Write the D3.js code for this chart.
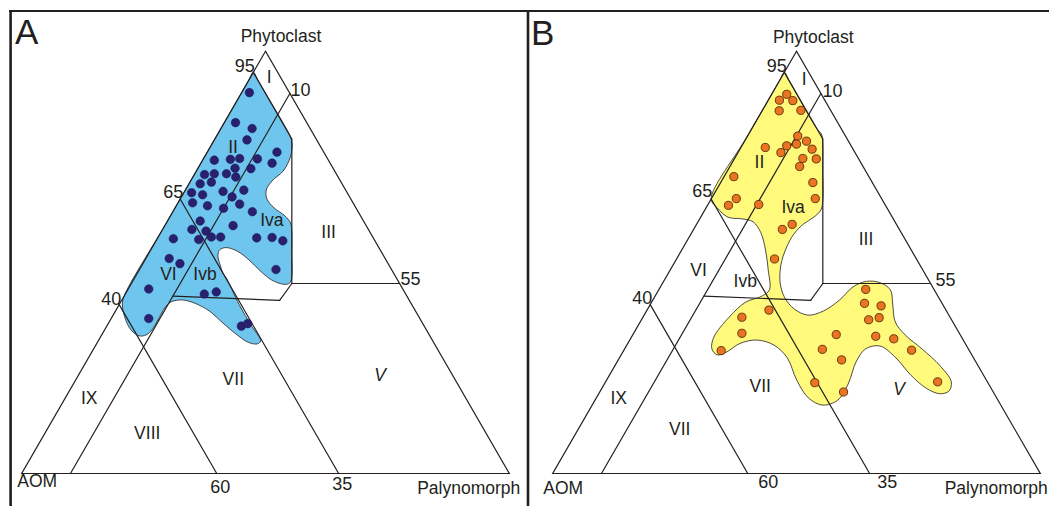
<!DOCTYPE html>
<html>
<head>
<meta charset="utf-8">
<script src="https://cdn.jsdelivr.net/npm/d3@7"></script>
<style>
  body { margin: 0; background: #fff; }
  svg { display: block; }
  text { font-family: "Liberation Sans", Arial, Helvetica, sans-serif; fill: #231f20; }
</style>
</head>
<body>
<svg id="chart" width="1049" height="506"></svg>
<script>
// ---------------- DATA (ternary compositions, %) ----------------
// Samples: [AOM, Phytoclast, Palynomorph]
const samplesA = [
  [8.2,90.2,1.6],[14.6,83.1,2.3],[11.9,81.7,6.4],[14.3,79.0,6.7],[9.6,76.1,14.3],
  [11.9,73.5,14.6],[23.4,74.2,2.4],[20.0,74.4,5.6],[18.0,74.6,7.4],[14.4,74.5,11.1],
  [20.1,72.3,7.6],[16.9,72.2,10.9],[27.1,70.8,2.1],[25.0,71.0,4.0],[22.5,71.0,6.5],
  [21.0,70.2,8.8],[29.1,68.6,2.3],[26.6,69.0,4.4],[20.9,67.1,12.0],[31.9,66.5,1.6],
  [29.9,66.0,4.1],[25.3,66.8,7.9],[24.1,65.5,10.4],[32.9,64.1,3.0],[30.2,63.4,6.4],
  [27.2,62.8,10.0],[23.4,63.8,12.8],[21.7,62.0,16.3],[33.5,59.8,6.7],[27.3,58.7,14.0],
  [36.2,57.8,6.0],[33.5,57.4,9.1],[41.1,55.6,3.3],[36.0,55.4,8.6],[33.1,56.0,10.9],
  [31.2,56.0,12.8],[23.9,55.8,20.3],[20.7,55.9,23.4],[18.9,55.1,26.0],[44.3,50.9,4.8],
  [42.7,49.7,7.6],[23.7,48.3,28.0],[52.1,43.7,4.2],[41.3,42.5,16.2],[38.6,43.0,18.4],
  [55.6,36.7,7.7],[37.5,34.9,27.6],[35.9,35.5,28.6]
];
const samplesB = [
  [7.1,89.8,3.1],[9.3,88.4,2.3],[6.6,88.3,5.1],[10.6,85.9,3.5],[6.1,86.0,7.9],
  [9.8,79.9,10.3],[8.6,78.7,12.7],[13.2,77.6,9.2],[11.0,78.0,11.0],[15.2,76.0,8.8],
  [8.4,76.8,14.8],[17.8,77.2,5.0],[11.4,74.6,14.0],[8.7,74.5,16.8],[13.0,72.7,14.3],
  [12.2,68.9,18.9],[27.7,70.3,2.0],[13.6,65.1,21.3],[29.8,65.1,5.1],[32.2,63.5,4.3],
  [25.9,63.7,10.4],[21.4,59.0,19.6],[24.0,57.8,18.2],[29.1,50.8,20.1],[14.0,43.6,42.4],
  [15.9,40.3,43.8],[12.8,39.7,47.5],[17.0,36.4,46.6],[14.6,36.9,48.5],[36.3,38.7,25.0],
  [42.7,37.0,20.3],[44.6,33.2,22.2],[50.9,29.1,20.0],[25.4,32.9,41.7],[17.5,32.5,50.0],
  [14.1,31.9,54.0],[30.0,29.4,40.6],[27.3,26.9,45.8],[11.8,29.2,59.0],[35.5,21.5,43.0],
  [30.7,19.3,50.0],[10.2,21.7,68.1]
];

// Sample envelopes: [Phytoclast, Palynomorph] (AOM = remainder)
const envelopeA = [
  [95,0],[93,2],[81.8,13.3],[79.9,15.1],[78.3,16.3],[76.1,17.3],[74.0,17.8],[71.6,17.8],
  [69.3,16.7],[67.1,16.6],[65.0,17.8],[62.9,20.3],[61.0,23.5],[59.3,25.5],[57.2,26.8],
  [52,29.4],[46.8,32.0],[45.1,32.4],[44.8,31.4],[45.8,28.4],[48.0,24.9],[50.6,21.3],
  [52.7,17.8],[53.5,15.1],[52.9,14.1],[51.5,14.5],[49.4,16.0],[47.5,17.5],[46.1,19.0],
  [40,24.6],[35,29.6],[31.4,33.3],[30.7,33.0],[31.0,31.1],[32.8,27.8],[35.6,23.5],
  [38.5,19.2],[40.3,15.4],[41.1,12.4],[40.7,10.4],[39.7,9.8],[34.0,9.7],[32.8,9.1],
  [32.6,7.8],[34.0,5.4],[36.8,2.8],[39.9,0.7],[42,0],[60,0],[80,0],[93,0]
];
const envelopeB = [
  [95,0],[93,2],[81.7,13.3],[80.4,14.9],[78.7,16.0],[72,19.4],[64.8,23.0],[62.4,23.8],
  [60.7,23.2],[59.1,21.9],[56.7,21.1],[53.4,21.2],[49.4,22.1],[45.1,24.1],[41.6,26.8],
  [39.0,30.0],[37.5,33.6],[38.5,36.3],[41.1,38.3],[44.2,39.5],[45.5,41.6],[45.2,44.5],
  [43.5,47.5],[39.9,49.8],[35.9,52.3],[32.8,55.9],[29.5,61.0],[25.5,66.7],[21.7,70.9],
  [19.5,71.5],[18.9,69.9],[20.2,66.5],[23.3,61.8],[27.6,56.4],[30.2,52.0],[29.5,49.4],
  [26.4,49.0],[21.2,50.0],[17.4,49.8],[16.2,47.3],[17.9,43.5],[22.1,39.0],[27.4,34.4],
  [30.4,30.2],[31.6,26.1],[30.8,23.0],[28.8,21.3],[28.1,19.7],[29.5,17.9],[32.3,16.9],
  [37.1,17.7],[40.6,19.3],[42.0,21.9],[43.5,22.7],[48.2,20.1],[52.9,17.2],[57.0,14.2],
  [59.6,11.3],[60.3,8.7],[60.7,5.6],[62.9,2.3],[65,0],[80,0],[93,0]
];

// Triangle corners and field boundaries: [Phytoclast, Palynomorph]
const triangleCorners = [[100,0],[0,0],[0,100]];
const fieldLines = [
  [[95,0],[79.2,15.8]],
  [[79.2,15.8],[45,32.9]],
  [[45,32.9],[45,55]],
  [[45,32.9],[41.0,32.4]],
  [[41.0,32.4],[42.0,10]],
  [[90,10],[0,10]],
  [[65,0],[0,65]],
  [[40,0],[0,40]]
];

// Axis titles and tick labels
const vertexTitles = ["Phytoclast", "AOM", "Palynomorph"];
const tickLabels = ["95", "10", "65", "40", "55", "60", "35"];
const tickPoints = [[95,0],[90,10],[65,0],[40,0],[45,55],[0,40],[0,65]];

// Field labels: [label, Phytoclast, Palynomorph]
const fieldLabelsA = [
  ["I",93.9,3.8],["II",77.3,4.7],["Iva",60.0,21.3],["VI",47.2,6.5],["Ivb",47.2,14.0],
  ["III",57.3,34.3],["VII",22.4,32.2],["V",23.4,61.8],["IX",17.9,4.9],["VIII",9.7,20.9]
];
const fieldLabelsB = [
  ["I",93.6,4.8],["II",73.8,5.5],["Iva",63.2,17.7],["VI",48.2,5.8],["Ivb",45.6,16.7],
  ["III",55.5,36.5],["VII",20.7,32.2],["V",20.1,61.0],["IX",17.9,4.6],["VII",10.5,20.8]
];
const panelLetters = ["A", "B"];

// ---------------- LAYOUT / STYLE ----------------
const ink = "#231f20";
const panels = [
  { letter: panelLetters[0], x0: 21.7, x1: 509.3, base: 473.5,
    samples: samplesA, envelope: envelopeA, labels: fieldLabelsA,
    fill: "#6ec5ee", dotFill: "#29206f", dotStroke: "#1d1650", dotR: 4.3, dotSW: 0.5,
    letterX: 15, letterY: 43.5,
    tickOff: [[1.5,-0.5,"end"],[0.5,2.5,"start"],[3,-1,"end"],[2,0.5,"end"],[1,1.5,"start"],[3.5,19.8,"middle"],[3.7,16.5,"middle"]],
    titleOff: [[15.5,-9.2,"middle"],[-4.4,13.5,"start"],[11,20.5,"end"]] },
  { letter: panelLetters[1], x0: 552.7, x1: 1040.3, base: 473.5,
    samples: samplesB, envelope: envelopeB, labels: fieldLabelsB,
    fill: "#fffa7c", dotFill: "#ea7421", dotStroke: "#5a2a08", dotR: 4.1, dotSW: 0.9,
    letterX: 531, letterY: 44.5,
    tickOff: [[2.5,-0.5,"end"],[1.5,3.5,"start"],[1,-2,"end"],[2,-1,"end"],[5,3,"start"],[20.6,14.8,"middle"],[17.7,14.8,"middle"]],
    titleOff: [[16.8,-8.5,"middle"],[-9.4,20.5,"start"],[7.5,20.5,"end"]] }
];

const svg = d3.select("#chart");

// frame
svg.append("line").attr("x1", 9).attr("x2", 1049).attr("y1", 11).attr("y2", 11)
  .attr("stroke", ink).attr("stroke-width", 2.2);
svg.append("line").attr("x1", 10.6).attr("x2", 10.6).attr("y1", 10).attr("y2", 506)
  .attr("stroke", ink).attr("stroke-width", 2.6);
svg.append("line").attr("x1", 528).attr("x2", 528).attr("y1", 10).attr("y2", 506)
  .attr("stroke", ink).attr("stroke-width", 2.6);

panels.forEach(pn => {
  const side = pn.x1 - pn.x0;
  const xs = d3.scaleLinear().domain([0, 100]).range([pn.x0, pn.x1]);
  const ys = d3.scaleLinear().domain([0, 100]).range([pn.base, pn.base - side * Math.sqrt(3) / 2]);
  const proj = (p, l) => [xs(l + p / 2), ys(p)];

  const g = svg.append("g");

  // envelope
  const env = d3.line().x(d => proj(d[0], d[1])[0]).y(d => proj(d[0], d[1])[1])
    .curve(d3.curveCatmullRomClosed.alpha(0.5));
  g.append("path").attr("d", env(pn.envelope))
    .attr("fill", pn.fill).attr("stroke", ink).attr("stroke-width", 0.8);

  // triangle
  const tri = d3.line().x(d => proj(d[0], d[1])[0]).y(d => proj(d[0], d[1])[1]).curve(d3.curveLinearClosed);
  g.append("path").attr("d", tri(triangleCorners)).attr("fill", "none")
    .attr("stroke", ink).attr("stroke-width", 1.2).attr("stroke-linejoin", "miter");

  // field boundaries
  g.selectAll("line.field").data(fieldLines).join("line").attr("class", "field")
    .attr("x1", d => proj(d[0][0], d[0][1])[0]).attr("y1", d => proj(d[0][0], d[0][1])[1])
    .attr("x2", d => proj(d[1][0], d[1][1])[0]).attr("y2", d => proj(d[1][0], d[1][1])[1])
    .attr("stroke", ink).attr("stroke-width", 1.2).attr("stroke-linecap", "round");

  // samples
  g.selectAll("circle").data(pn.samples).join("circle")
    .attr("cx", d => proj(d[1], d[2])[0]).attr("cy", d => proj(d[1], d[2])[1])
    .attr("r", pn.dotR).attr("fill", pn.dotFill)
    .attr("stroke", pn.dotStroke).attr("stroke-width", pn.dotSW);

  // field labels
  g.selectAll("text.field").data(pn.labels).join("text").attr("class", "field")
    .attr("x", d => proj(d[1], d[2])[0]).attr("y", d => proj(d[1], d[2])[1])
    .attr("dy", "0.36em").attr("text-anchor", "middle")
    .attr("font-size", 17.5)
    .attr("font-style", d => d[0] === "V" ? "italic" : "normal")
    .text(d => d[0]);

  // tick labels
  tickLabels.forEach((t, i) => {
    const p = proj(tickPoints[i][0], tickPoints[i][1]);
    const o = pn.tickOff[i];
    g.append("text").attr("x", p[0] + o[0]).attr("y", p[1] + o[1])
      .attr("text-anchor", o[2]).attr("font-size", 18).text(t);
  });

  // vertex titles
  triangleCorners.forEach((c, i) => {
    const p = proj(c[0], c[1]);
    const o = pn.titleOff[i];
    g.append("text").attr("x", p[0] + o[0]).attr("y", p[1] + o[1])
      .attr("text-anchor", o[2]).attr("font-size", 17.5).text(vertexTitles[i]);
  });

  // panel letter
  g.append("text").attr("x", pn.letterX).attr("y", pn.letterY)
    .attr("font-size", 35).text(pn.letter);
});
</script>
</body>
</html>
